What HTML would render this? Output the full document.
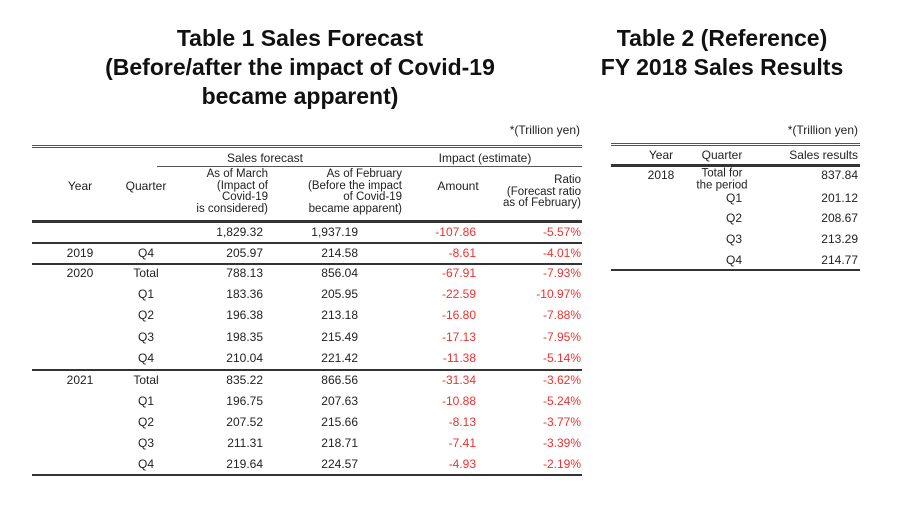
<!DOCTYPE html>
<html><head><meta charset="utf-8"><style>
body{margin:0;width:900px;height:520px;background:#fff;position:relative;overflow:hidden;font-family:"Liberation Sans",sans-serif;color:#222}
.t{position:absolute;font-size:12px;line-height:12px;transform:translateY(-50%);white-space:nowrap}
.r{text-align:right}
.c{text-align:center}
.red{color:#f03030}
.h{position:absolute;font-weight:bold;font-size:23px;line-height:29px;text-align:center;color:#111}
.ln{position:absolute;background:#555}
.dbl{position:absolute;height:1px;border-top:1px solid #555;border-bottom:1px solid #555}
.thk{position:absolute;height:3px;background:#333}
.ml{font-size:11.5px;line-height:11.5px}
</style></head><body>
<div class="h" style="left:40px;width:520px;top:24px">Table 1 Sales Forecast<br>(Before/after the impact of Covid-19<br>became apparent)</div>
<div class="h" style="left:580px;width:284px;top:24px">Table 2 (Reference)<br>FY 2018 Sales Results</div>

<div>
<div class="t r" style="right:320px;top:130px">*(Trillion yen)</div>
<div class="dbl" style="left:32px;width:550px;top:145px"></div>
<div class="t c" style="left:180px;width:170px;top:158px">Sales forecast</div>
<div class="t c" style="left:410px;width:150px;top:158px">Impact (estimate)</div>
<div class="ln" style="left:157px;width:425px;top:166px;height:1px"></div>
<div class="t c" style="left:55px;width:50px;top:186px">Year</div>
<div class="t c" style="left:115px;width:62px;top:186px">Quarter</div>
<div class="t r ml" style="right:632px;top:192px;transform:translateY(-50%)">As of March<br>(Impact of<br>Covid-19<br>is considered)</div>
<div class="t r ml" style="right:498px;top:192px">As of February<br>(Before the impact<br>of Covid-19<br>became apparent)</div>
<div class="t c" style="left:428px;width:60px;top:186px">Amount</div>
<div class="t r ml" style="right:319px;top:192px">Ratio<br>(Forecast ratio<br>as of February)</div>
<div class="thk" style="left:32px;width:550px;top:220px"></div>
<div class="t r" style="right:637px;top:232px">1,829.32</div>
<div class="t r" style="right:542px;top:232px">1,937.19</div>
<div class="t r red" style="right:424px;top:232px">-107.86</div>
<div class="t r red" style="right:319px;top:232px">-5.57%</div>
<div class="thk" style="left:32px;width:550px;top:242px;height:2px"></div>
<div id="rows"></div>
</div>

<div>
<div class="t r" style="right:42px;top:130px">*(Trillion yen)</div>
<div class="dbl" style="left:611px;width:249px;top:143px"></div>
<div class="t c" style="left:640px;width:42px;top:155px">Year</div>
<div class="t c" style="left:690px;width:64px;top:155px">Quarter</div>
<div class="t r" style="right:42px;top:155px">Sales results</div>
<div class="thk" style="left:611px;width:249px;top:164px"></div>
<div class="t c" style="left:640px;width:42px;top:175px">2018</div>
<div class="t c ml" style="left:686px;width:72px;top:180px">Total for<br>the period</div>
<div class="t r" style="right:42px;top:175px">837.84</div>
<div id="t2rows"></div>
<div class="thk" style="left:611px;width:249px;top:269px;height:2px"></div>
</div>

<script>
const years=["2019","2020","","","","","2021","","","",""];
const quarters=["Q4","Total","Q1","Q2","Q3","Q4","Total","Q1","Q2","Q3","Q4"];
const marchVals=["205.97","788.13","183.36","196.38","198.35","210.04","835.22","196.75","207.52","211.31","219.64"];
const febVals=["214.58","856.04","205.95","213.18","215.49","221.42","866.56","207.63","215.66","218.71","224.57"];
const amountVals=["-8.61","-67.91","-22.59","-16.80","-17.13","-11.38","-31.34","-10.88","-8.13","-7.41","-4.93"];
const ratioVals=["-4.01%","-7.93%","-10.97%","-7.88%","-7.95%","-5.14%","-3.62%","-5.24%","-3.77%","-3.39%","-2.19%"];
const t2Quarters=["Q1","Q2","Q3","Q4"];
const t2Vals=["201.12","208.67","213.29","214.77"];
const rowTops=[253,273,294,315,337,358,380,401,422,443,464];
const rows=document.getElementById('rows');
function cell(parent,cls,style,txt,name){
  const d=document.createElement('div');
  d.className='t '+cls;d.setAttribute('style',style);d.textContent=txt;
  
  
  parent.appendChild(d);
}
for(let i=0;i<quarters.length;i++){
  const y=rowTops[i];
  if(years[i])cell(rows,'c','left:55px;width:50px;top:'+y+'px',years[i],'year-cell');
  cell(rows,'c','left:115px;width:62px;top:'+y+'px',quarters[i],'quarter-cell');
  cell(rows,'r','right:637px;top:'+y+'px',marchVals[i],'march-cell');
  cell(rows,'r','right:542px;top:'+y+'px',febVals[i],'feb-cell');
  cell(rows,'r red','right:424px;top:'+y+'px',amountVals[i],'amount-cell');
  cell(rows,'r red','right:319px;top:'+y+'px',ratioVals[i],'ratio-cell');
}
[263,369,474].forEach(t=>{
  const l=document.createElement('div');
  l.className='thk';l.setAttribute('style','left:32px;width:550px;top:'+t+'px;height:2px');
  
  
  rows.appendChild(l);
});
const t2=document.getElementById('t2rows');
const t2Tops=[198,218,239,260];
for(let i=0;i<t2Vals.length;i++){
  cell(t2,'r','right:158px;top:'+t2Tops[i]+'px',t2Quarters[i],'t2-quarter-cell');
  cell(t2,'r','right:42px;top:'+t2Tops[i]+'px',t2Vals[i],'t2-sales-cell');
}
</script>
</body></html>
